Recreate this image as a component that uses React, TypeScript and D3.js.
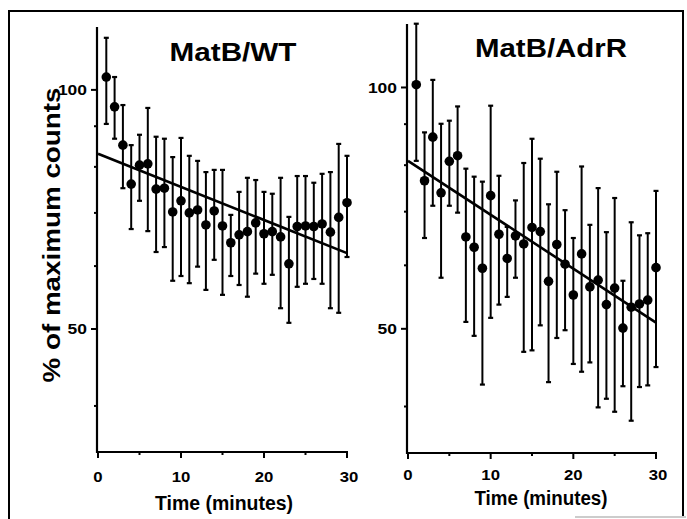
import React from "react";
import * as d3 from "d3";

// time points (minutes)
const minutes = [1, 2, 3, 4, 5, 6, 7, 8, 9, 10, 11, 12, 13, 14, 15, 16, 17, 18, 19, 20, 21, 22, 23, 24, 25, 26, 27, 28, 29, 30];
const xTicks = [0, 10, 20, 30];
const xMinorTicks = [5, 15, 25];
const yTicks = [50, 100];
const yMinorTicks = [40, 60, 70, 80, 90];

// MatB/WT : mean and error bar ends (% of maximum counts)
const wtMean = [103.8, 95.2, 85.2, 76.1, 80.4, 80.7, 75.0, 75.2, 70.2, 72.5, 70.0, 70.6, 67.6, 70.4, 67.4, 64.2, 65.7, 66.3, 68.0, 65.9, 66.3, 65.3, 60.4, 67.3, 67.4, 67.3, 67.8, 66.2, 69.1, 72.1];
const wtHigh = [116.3, 103.8, 95.7, 85.2, 87.8, 94.9, 87.3, 86.8, 82.3, 87.0, 82.6, 81.4, 78.8, 79.3, 79.3, 69.6, 74.4, 77.5, 77.0, 74.4, 74.0, 77.5, 69.2, 77.9, 77.9, 76.4, 78.4, 78.8, 85.5, 82.6];
const wtLow = [90.6, 86.8, 75.2, 66.8, 72.5, 66.4, 62.5, 63.4, 57.5, 58.3, 57.1, 59.9, 56.0, 61.1, 55.2, 58.3, 56.8, 54.9, 58.7, 57.0, 58.5, 53.1, 50.9, 56.5, 57.0, 57.8, 57.0, 53.1, 52.4, 61.6];
const wtFit = [83.1, 62.3]; // at 0 and 30 min

// MatB/AdrR
const adrMean = [100.8, 76.5, 86.7, 73.9, 80.9, 82.2, 65.1, 63.2, 59.5, 73.3, 65.6, 61.2, 65.3, 63.8, 66.9, 66.1, 57.3, 63.7, 60.2, 55.1, 62.0, 56.4, 57.5, 53.6, 56.2, 50.1, 53.2, 53.7, 54.3, 59.6];
const adrHigh = [120.1, 87.9, 102.2, 90.1, 90.9, 94.7, 79.2, 77.4, 76.3, 94.9, 77.6, 67.0, 72.3, 80.5, 86.3, 81.5, 71.5, 78.5, 70.3, 64.9, 79.7, 67.4, 74.9, 66.0, 72.8, 57.4, 67.9, 65.4, 65.8, 74.3];
const adrLow = [81.0, 64.9, 71.2, 57.9, 71.2, 69.8, 51.0, 49.0, 42.6, 51.6, 53.6, 54.8, 57.9, 46.8, 47.0, 50.5, 42.9, 48.7, 49.8, 45.2, 44.2, 45.4, 39.9, 40.9, 39.4, 42.4, 38.4, 42.3, 42.5, 44.8];
const adrFit = [81.0, 50.9];

const FONT = "'Liberation Sans', Arial, Helvetica, sans-serif";

type PanelProps = {
  title: string;
  mean: number[];
  high: number[];
  low: number[];
  fit: number[];
  x0: number;
  x1: number;
  top: number;
  bottom: number;
  titleX: number;
  titleY: number;
  titleLen: number;
  tickLabelY: number;
  xLabelX: number;
  xLabelY: number;
  xLabelLen: number;
};

function Panel(p: PanelProps) {
  const x = d3.scaleLinear().domain([0, 30]).range([p.x0, p.x1]);
  const y = d3.scaleLog().domain([35, 120]).range([p.bottom, p.top]);
  const fitLine = d3.line<number>().x((d, i) => x(i * 30)).y((d) => y(d));
  const axisX = p.x0 - 1;

  return (
    <g>
      {/* axes */}
      <line x1={axisX} x2={axisX} y1={p.top} y2={p.bottom + 1} stroke="#000" strokeWidth={2.2} />
      <line x1={axisX - 1} x2={x(30) + 1} y1={p.bottom} y2={p.bottom} stroke="#000" strokeWidth={2.2} />
      {yTicks.map((t) => (
        <g key={"yt" + t}>
          <line x1={axisX - 6} x2={axisX} y1={y(t)} y2={y(t)} stroke="#000" strokeWidth={2} />
          <text
            x={axisX - 10}
            y={y(t) + 5.5}
            textAnchor="end"
            fontSize={15}
            fontWeight="bold"
            fontFamily={FONT}
            textLength={String(t).length * 9.7}
            lengthAdjust="spacingAndGlyphs"
          >
            {t}
          </text>
        </g>
      ))}
      {yMinorTicks.map((t) => (
        <line key={"ym" + t} x1={axisX - 3} x2={axisX} y1={y(t)} y2={y(t)} stroke="#000" strokeWidth={2} />
      ))}
      {xTicks.map((t) => (
        <g key={"xt" + t}>
          <line x1={x(t)} x2={x(t)} y1={p.bottom} y2={p.bottom + 6} stroke="#000" strokeWidth={2} />
          <text
            x={x(t) + (t === 30 ? 2 : 0)}
            y={p.tickLabelY}
            textAnchor="middle"
            fontSize={15}
            fontWeight="bold"
            fontFamily={FONT}
            textLength={String(t).length * 9.3}
            lengthAdjust="spacingAndGlyphs"
          >
            {t}
          </text>
        </g>
      ))}
      {xMinorTicks.map((t) => (
        <line key={"xm" + t} x1={x(t)} x2={x(t)} y1={p.bottom} y2={p.bottom + 3} stroke="#000" strokeWidth={2} />
      ))}

      {/* error bars */}
      {minutes.map((m, i) => (
        <g key={"eb" + m}>
          <line x1={x(m)} x2={x(m)} y1={y(p.high[i])} y2={y(p.low[i])} stroke="#000" strokeWidth={2} />
          <line x1={x(m) - 2.5} x2={x(m) + 2.5} y1={y(p.high[i])} y2={y(p.high[i])} stroke="#000" strokeWidth={2.2} />
          <line x1={x(m) - 2.5} x2={x(m) + 2.5} y1={y(p.low[i])} y2={y(p.low[i])} stroke="#000" strokeWidth={2.2} />
        </g>
      ))}

      {/* fitted decay */}
      <path d={fitLine(p.fit) || ""} fill="none" stroke="#000" strokeWidth={2.6} />

      {/* means */}
      {minutes.map((m, i) => (
        <circle key={"pt" + m} cx={x(m)} cy={y(p.mean[i])} r={4.8} fill="#000" />
      ))}

      <text
        x={p.titleX}
        y={p.titleY}
        textAnchor="middle"
        fontSize={25}
        fontWeight="bold"
        fontFamily={FONT}
        textLength={p.titleLen}
        lengthAdjust="spacingAndGlyphs"
      >
        {p.title}
      </text>
      <text
        x={p.xLabelX}
        y={p.xLabelY}
        textAnchor="middle"
        fontSize={20}
        fontWeight="bold"
        fontFamily={FONT}
        textLength={p.xLabelLen}
        lengthAdjust="spacingAndGlyphs"
      >
        Time (minutes)
      </text>
    </g>
  );
}

export default function App() {
  const width = 687;
  const height = 519;

  return (
    <svg
      width={width}
      height={height}
      style={{ position: "absolute", left: 0, top: 0, background: "#fff" }}
    >
      <rect x={0} y={0} width={width} height={height} fill="#fff" />
      {/* frame of the scanned figure */}
      <path d="M9,530 L9,11 L683,11 L683,516" fill="none" stroke="#000" strokeWidth={2} />
      <line x1={575} x2={686} y1={517} y2={517} stroke="#bbb" strokeWidth={1.5} />

      <Panel
        title="MatB/WT"
        mean={wtMean}
        high={wtHigh}
        low={wtLow}
        fit={wtFit}
        x0={98}
        x1={347}
        top={27}
        bottom={452}
        titleX={233}
        titleY={61}
        titleLen={127}
        tickLabelY={482}
        xLabelX={224}
        xLabelY={510}
        xLabelLen={138}
      />
      <Panel
        title="MatB/AdrR"
        mean={adrMean}
        high={adrHigh}
        low={adrLow}
        fit={adrFit}
        x0={408}
        x1={656}
        top={24}
        bottom={453}
        titleX={551}
        titleY={57}
        titleLen={152}
        tickLabelY={480}
        xLabelX={541}
        xLabelY={505}
        xLabelLen={133}
      />

      <text
        transform="translate(60,235) rotate(-90)"
        textAnchor="middle"
        fontSize={24}
        fontWeight="bold"
        fontFamily={FONT}
        textLength={295}
        lengthAdjust="spacingAndGlyphs"
      >
        % of maximum counts
      </text>
    </svg>
  );
}
